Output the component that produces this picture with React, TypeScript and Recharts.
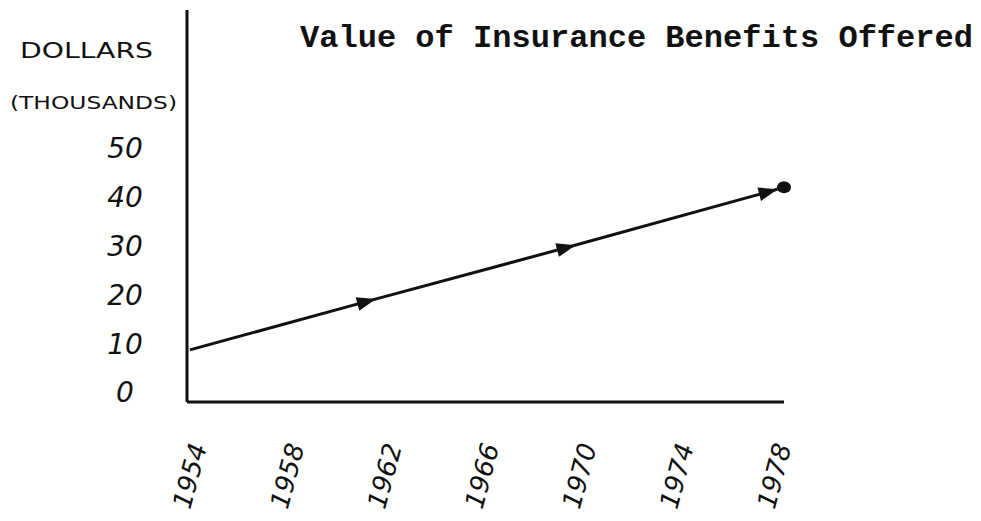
import { LineChart, Line, XAxis, YAxis } from 'recharts';

// values (thousands of dollars)
const years = [1954, 1961.2, 1969.4, 1977.7, 1978.4];
const values = [8.8, 18.6, 29.6, 41, 42];
const markers = ['none', 'triangle', 'triangle', 'triangle', 'circle'];

const xTicks = [1954, 1958, 1962, 1966, 1970, 1974, 1978];
const yTicks = [0, 10, 20, 30, 40, 50];

const title = 'Value of Insurance Benefits Offered';
const yLabelTop = 'DOLLARS';
const yLabelBottom = '(THOUSANDS)';

const data = years.map((year, i) => ({ year, value: values[i], marker: markers[i] }));

const ink = '#111';
const handFont = '"DejaVu Sans", sans-serif';

const MarkerDot = (props: any) => {
    const { cx, cy, payload } = props;
    if (cx == null || cy == null) return null;
    if (payload.marker === 'triangle') {
        return (
            <polygon
                points={`${cx - 8},${cy - 7} ${cx + 11},${cy} ${cx - 8},${cy + 7}`}
                fill={ink}
                transform={`rotate(-15 ${cx} ${cy})`}
            />
        );
    }
    if (payload.marker === 'circle') {
        return <ellipse cx={cx} cy={cy} rx={7} ry={6} fill={ink} />;
    }
    return <g />;
};

const YearTick = (props: any) => {
    const { x, payload } = props;
    return (
        <g transform={`translate(${x},476) rotate(-75)`}>
            <text textAnchor="middle" dominantBaseline="central" fontSize={26} fontStyle="italic" fontFamily={handFont} fill={ink}>
                {payload.value}
            </text>
        </g>
    );
};

const ValueTick = (props: any) => {
    const { y, payload } = props;
    return (
        <text x={125} y={y} textAnchor="middle" dominantBaseline="central" fontSize={28} fontStyle="italic" fontFamily={handFont} fill={ink}>
            {payload.value}
        </text>
    );
};

export default function App() {
    return (
        <div style={{ position: 'absolute', left: 0, top: 0, width: 981, height: 521, background: '#fff' }}>
            <LineChart width={981} height={521} data={data} margin={{ top: 10, right: 197, bottom: 59, left: 127 }}>
                <XAxis
                    dataKey="year"
                    type="number"
                    domain={[1953.88, 1978.35]}
                    ticks={xTicks}
                    tickLine={false}
                    axisLine={{ stroke: ink, strokeWidth: 3 }}
                    tick={<YearTick />}
                    height={60}
                    interval={0}
                />
                <YAxis
                    type="number"
                    domain={[-1.84, 78.2]}
                    ticks={yTicks}
                    tickLine={false}
                    axisLine={{ stroke: ink, strokeWidth: 3 }}
                    tick={<ValueTick />}
                    width={60}
                    interval={0}
                />
                <Line
                    dataKey="value"
                    type="linear"
                    stroke={ink}
                    strokeWidth={3}
                    dot={<MarkerDot />}
                    activeDot={false}
                    isAnimationActive={false}
                />
            </LineChart>
            <svg width={981} height={521} style={{ position: 'absolute', left: 0, top: 0, pointerEvents: 'none' }}>
                <text x={300} y={47} fontSize={32} fontWeight="bold" fontFamily='"Liberation Mono", monospace' fill={ink} textLength={673} lengthAdjust="spacingAndGlyphs">
                    {title}
                </text>
                <text x={20} y={58} fontSize={21} fontFamily={handFont} fill={ink} textLength={133} lengthAdjust="spacingAndGlyphs">
                    {yLabelTop}
                </text>
                <text x={10} y={109} fontSize={17} fontFamily={handFont} fill={ink} textLength={167} lengthAdjust="spacingAndGlyphs">
                    {yLabelBottom}
                </text>
            </svg>
        </div>
    );
}
